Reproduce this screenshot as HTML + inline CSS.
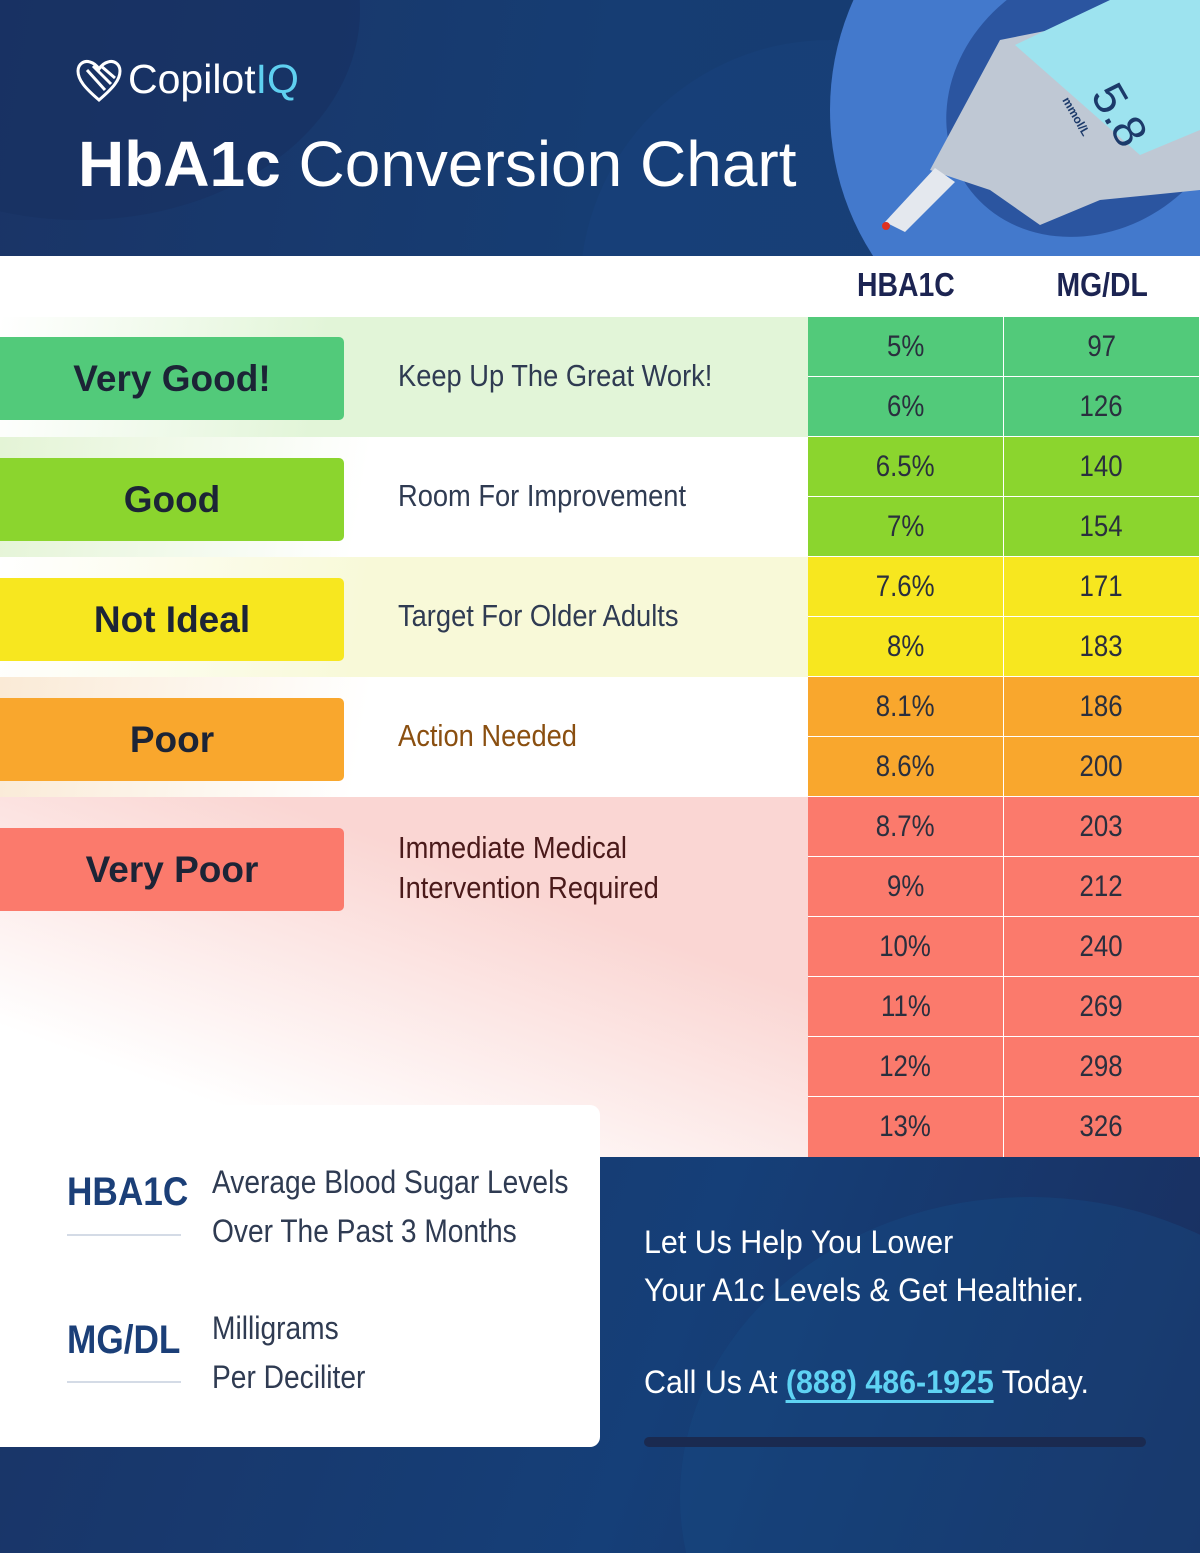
<!DOCTYPE html>
<html><head><meta charset="utf-8"><style>
*{margin:0;padding:0;box-sizing:border-box}
html,body{width:1200px;height:1553px;overflow:hidden}
body{position:relative;font-family:"Liberation Sans",sans-serif;background:#fff}
.abs{position:absolute}
.c{display:inline-block;transform:scaleX(.88);transform-origin:left center;white-space:nowrap}
.w{display:inline-block;transform:scaleX(.95);transform-origin:left center;white-space:nowrap}
.cc{display:inline-block;transform:scaleX(.86);transform-origin:center center;white-space:nowrap}
.lc{display:inline-block;transform:scaleX(1.0);transform-origin:center center;white-space:nowrap}
.lab{position:absolute;left:0;width:344px;height:83px;border-radius:0 5px 5px 0;font-weight:bold;font-size:37px;color:#1c2436;text-align:center;line-height:83px}
.desc{position:absolute;left:398px;font-size:31px;color:#2f3b52}
.cell{position:absolute;width:195px;height:59px;font-size:30px;color:#2a2f3e;text-align:center;line-height:60px}
</style></head><body>
<div class="abs" style="left:0;top:0;width:1200px;height:256px;background:linear-gradient(100deg,#1a3466 0%,#163d73 50%,#173b70 100%);overflow:hidden">
 <div class="abs" style="left:-200px;top:-200px;width:560px;height:420px;border-radius:50%;background:#183060;opacity:.6"></div>
 <div class="abs" style="left:580px;top:40px;width:500px;height:500px;border-radius:50%;background:#1a4680;opacity:.35"></div>
 <svg class="abs" style="left:830px;top:0" width="370" height="256" viewBox="830 0 370 256">
  <ellipse cx="1080" cy="110" rx="250" ry="260" fill="#4379cc"/>
  <ellipse cx="1090" cy="100" rx="150" ry="130" fill="#2b55a0" transform="rotate(-35 1090 100)"/>
  <path d="M930 170 L1000 40 L1200 0 L1200 190 L1100 200 L1040 225 L990 190 Z" fill="#bfc8d4"/>
  <path d="M1015 45 L1110 0 L1200 0 L1200 130 L1140 155 Z" fill="#9de3ef"/>
  <text x="1090" y="95" font-family="Liberation Sans" font-size="46" fill="#1c3a6a" transform="rotate(60 1090 95)">5.8</text>
  <text x="1062" y="100" font-family="Liberation Sans" font-size="12" font-weight="bold" fill="#1c3a6a" transform="rotate(60 1062 100)">mmol/L</text>
  <path d="M885 222 L935 168 L955 182 L905 232 Z" fill="#e4e8ee"/>
  <circle cx="886" cy="226" r="4" fill="#e03020"/>
 </svg>
 <svg class="abs" style="left:75px;top:58px" width="48" height="46" viewBox="0 0 48 46"><path d="M24 42 C10 30 3 22 3 13 C3 6 9 2 15 4 C19 5 22 8 24 11 C26 8 29 5 33 4 C39 2 45 6 45 13 C45 22 38 30 24 42 Z M12 12 L30 32 M18 8 L36 26 M26 8 L40 20" stroke="#fff" stroke-width="3" fill="none"/></svg>
 <div class="abs" style="left:128px;top:56px;font-size:41px;color:#fff">Copilot<span style="color:#5fd0f0">IQ</span></div>
 <div class="abs" style="left:78px;top:127px;font-size:64px;color:#fff"><b>HbA1c</b> Conversion Chart</div>
</div>
<div class="abs" style="left:808px;top:266px;width:196px;text-align:center;font-size:33px;font-weight:bold;color:#1c2452"><span class="cc">HBA1C</span></div>
<div class="abs" style="left:1004px;top:266px;width:196px;text-align:center;font-size:33px;font-weight:bold;color:#1c2452"><span class="cc">MG/DL</span></div>
<div class="abs" style="left:0;top:317px;width:808px;height:120px;background:linear-gradient(100deg,#fff 0%,#e2f5d8 40%)"></div>
<div class="abs" style="left:0;top:437px;width:808px;height:120px;background:linear-gradient(100deg,#e4f4d6 0%,#fff 45%)"></div>
<div class="abs" style="left:0;top:557px;width:808px;height:120px;background:linear-gradient(100deg,#fff 0%,#f8f9d8 45%)"></div>
<div class="abs" style="left:0;top:677px;width:808px;height:120px;background:linear-gradient(100deg,#faead6 0%,#fff 45%)"></div>
<div class="abs" style="left:0;top:797px;width:808px;height:360px;background:linear-gradient(20deg,#fff 20%,#fad6d3 70%)"></div>
<div class="lab" style="top:337px;background:#52ca7a"><span class="lc">Very Good!</span></div>
<div class="lab" style="top:458px;background:#8bd52e"><span class="lc">Good</span></div>
<div class="lab" style="top:578px;background:#f7e71f"><span class="lc">Not Ideal</span></div>
<div class="lab" style="top:698px;background:#f9a72d"><span class="lc">Poor</span></div>
<div class="lab" style="top:828px;background:#fb7a6c"><span class="lc">Very Poor</span></div>
<div class="desc" style="top:358px"><span class="c">Keep Up The Great Work!</span></div>
<div class="desc" style="top:478px"><span class="c">Room For Improvement</span></div>
<div class="desc" style="top:598px"><span class="c">Target For Older Adults</span></div>
<div class="desc" style="top:718px;color:#8a4f10"><span class="c">Action Needed</span></div>
<div class="desc" style="top:828px;color:#4a1a1a;line-height:40px"><span class="c">Immediate Medical</span><br><span class="c">Intervention Required</span></div>
<div class="abs" style="left:808px;top:317px;width:392px;height:840px;background:#fff;overflow:hidden">
<div class="cell" style="left:0;top:0;background:#52ca7a"><span class="cc">5%</span></div><div class="cell" style="left:196px;top:0;background:#52ca7a"><span class="cc">97</span></div>
<div class="cell" style="left:0;top:60px;background:#52ca7a"><span class="cc">6%</span></div><div class="cell" style="left:196px;top:60px;background:#52ca7a"><span class="cc">126</span></div>
<div class="cell" style="left:0;top:120px;background:#8bd52e"><span class="cc">6.5%</span></div><div class="cell" style="left:196px;top:120px;background:#8bd52e"><span class="cc">140</span></div>
<div class="cell" style="left:0;top:180px;background:#8bd52e"><span class="cc">7%</span></div><div class="cell" style="left:196px;top:180px;background:#8bd52e"><span class="cc">154</span></div>
<div class="cell" style="left:0;top:240px;background:#f7e71f"><span class="cc">7.6%</span></div><div class="cell" style="left:196px;top:240px;background:#f7e71f"><span class="cc">171</span></div>
<div class="cell" style="left:0;top:300px;background:#f7e71f"><span class="cc">8%</span></div><div class="cell" style="left:196px;top:300px;background:#f7e71f"><span class="cc">183</span></div>
<div class="cell" style="left:0;top:360px;background:#f9a72d"><span class="cc">8.1%</span></div><div class="cell" style="left:196px;top:360px;background:#f9a72d"><span class="cc">186</span></div>
<div class="cell" style="left:0;top:420px;background:#f9a72d"><span class="cc">8.6%</span></div><div class="cell" style="left:196px;top:420px;background:#f9a72d"><span class="cc">200</span></div>
<div class="cell" style="left:0;top:480px;background:#fb7a6c"><span class="cc">8.7%</span></div><div class="cell" style="left:196px;top:480px;background:#fb7a6c"><span class="cc">203</span></div>
<div class="cell" style="left:0;top:540px;background:#fb7a6c"><span class="cc">9%</span></div><div class="cell" style="left:196px;top:540px;background:#fb7a6c"><span class="cc">212</span></div>
<div class="cell" style="left:0;top:600px;background:#fb7a6c"><span class="cc">10%</span></div><div class="cell" style="left:196px;top:600px;background:#fb7a6c"><span class="cc">240</span></div>
<div class="cell" style="left:0;top:660px;background:#fb7a6c"><span class="cc">11%</span></div><div class="cell" style="left:196px;top:660px;background:#fb7a6c"><span class="cc">269</span></div>
<div class="cell" style="left:0;top:720px;background:#fb7a6c"><span class="cc">12%</span></div><div class="cell" style="left:196px;top:720px;background:#fb7a6c"><span class="cc">298</span></div>
<div class="cell" style="left:0;top:780px;background:#fb7a6c;height:60px"><span class="cc">13%</span></div><div class="cell" style="left:196px;top:780px;background:#fb7a6c;height:60px"><span class="cc">326</span></div>
</div>
<div class="abs" style="left:0;top:1157px;width:1200px;height:396px;background:linear-gradient(110deg,#1a3466 0%,#153f78 55%,#1a2e5e 100%);overflow:hidden">
 <div class="abs" style="left:680px;top:40px;width:700px;height:600px;border-radius:50%;background:#174a84;opacity:.4"></div>
</div>
<div class="abs" style="left:0;top:1105px;width:600px;height:342px;background:#fff;border-radius:0 10px 10px 0"></div>
<div class="abs" style="left:67px;top:1170px;font-size:40px;font-weight:bold;color:#1b3f78"><span class="c">HBA1C</span></div>
<div class="abs" style="left:67px;top:1234px;width:114px;height:2px;background:#d4dbe6"></div>
<div class="abs" style="left:212px;top:1158px;font-size:32px;color:#2f3b52;line-height:49px"><span class="c">Average Blood Sugar Levels</span><br><span class="c">Over The Past 3 Months</span></div>
<div class="abs" style="left:67px;top:1318px;font-size:40px;font-weight:bold;color:#1b3f78"><span class="c">MG/DL</span></div>
<div class="abs" style="left:67px;top:1381px;width:114px;height:2px;background:#d4dbe6"></div>
<div class="abs" style="left:212px;top:1304px;font-size:32px;color:#2f3b52;line-height:49px"><span class="c">Milligrams</span><br><span class="c">Per Deciliter</span></div>
<div class="abs" style="left:644px;top:1218px;font-size:32px;color:#fff;line-height:48px"><span class="w">Let Us Help You Lower</span><br><span class="w">Your A1c Levels &amp; Get Healthier.</span></div>
<div class="abs" style="left:644px;top:1364px;font-size:32px;color:#fff"><span class="w">Call Us At <b style="color:#5fd3f3;border-bottom:3px solid #5fd3f3">(888) 486-1925</b> Today.</span></div>
<div class="abs" style="left:644px;top:1437px;width:502px;height:10px;border-radius:5px;background:#1a2a50"></div>
</body></html>
